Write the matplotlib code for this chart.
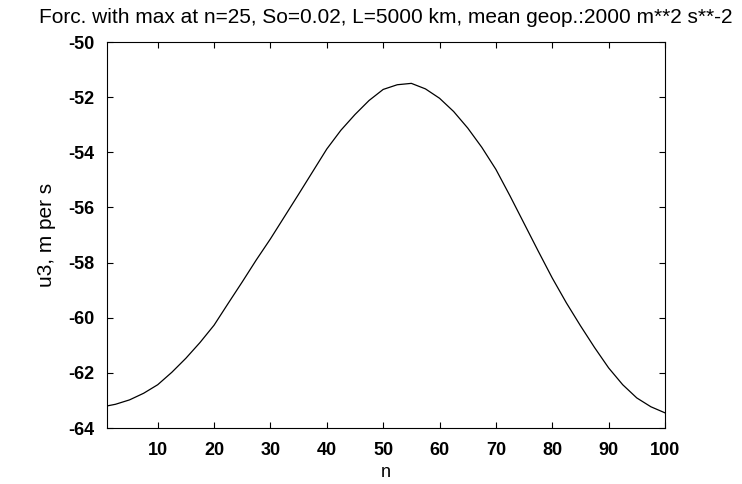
import numpy as np
import matplotlib
matplotlib.use("Agg")
import matplotlib.pyplot as plt

plt.rcParams['font.family'] = ['Liberation Sans', 'DejaVu Sans']
plt.rcParams['axes.unicode_minus'] = False

# values
n = [1, 2.5, 5, 7.5, 10, 12.5, 15, 17.5, 20, 22.5, 25, 27.5, 30, 32.5,
     35, 37.5, 40, 42.5, 45, 47.5, 50, 52.5, 55, 57.5, 60, 62.5, 65,
     67.5, 70, 72.5, 75, 77.5, 80, 82.5, 85, 87.5, 90, 92.5, 95, 97.5, 100]
u3 = [-63.20, -63.14, -62.98, -62.74, -62.43, -61.98, -61.47, -60.90,
      -60.27, -59.48, -58.70, -57.90, -57.14, -56.33, -55.52, -54.70,
      -53.88, -53.20, -52.63, -52.12, -51.72, -51.55, -51.50, -51.70,
      -52.04, -52.52, -53.12, -53.82, -54.62, -55.58, -56.58, -57.58,
      -58.56, -59.46, -60.29, -61.08, -61.82, -62.43, -62.91, -63.23, -63.45]

xticks = [10, 20, 30, 40, 50, 60, 70, 80, 90, 100]
yticks = [-64, -62, -60, -58, -56, -54, -52, -50]

fig = plt.figure(figsize=(7.42, 4.84), dpi=100)
ax = fig.add_axes([0.1442, 0.1157, 0.752, 0.7975])
ax.plot(n, u3, color='black', lw=0.9)

ax.set_xlim(1, 100)
ax.set_ylim(-64, -50)
ax.set_xticks(xticks)
ax.set_yticks(yticks)
ax.tick_params(direction='in', top=True, right=True, length=4,
               labelsize=13, width=0.8)
for lab in ax.get_xticklabels() + ax.get_yticklabels():
    lab.set_fontweight('bold')
ax.tick_params(axis='x', pad=10)
ax.tick_params(axis='y', pad=9)

ax.set_xlabel('n', fontsize=13, labelpad=4)
ax.set_ylabel('u3, m per s', fontsize=15, labelpad=9)
ax.set_title('Forc. with max at n=25, So=0.02, L=5000 km, mean geop.:2000 m**2 s**-2',
             fontsize=15, pad=14)

fig.savefig('out.png', dpi=100)
